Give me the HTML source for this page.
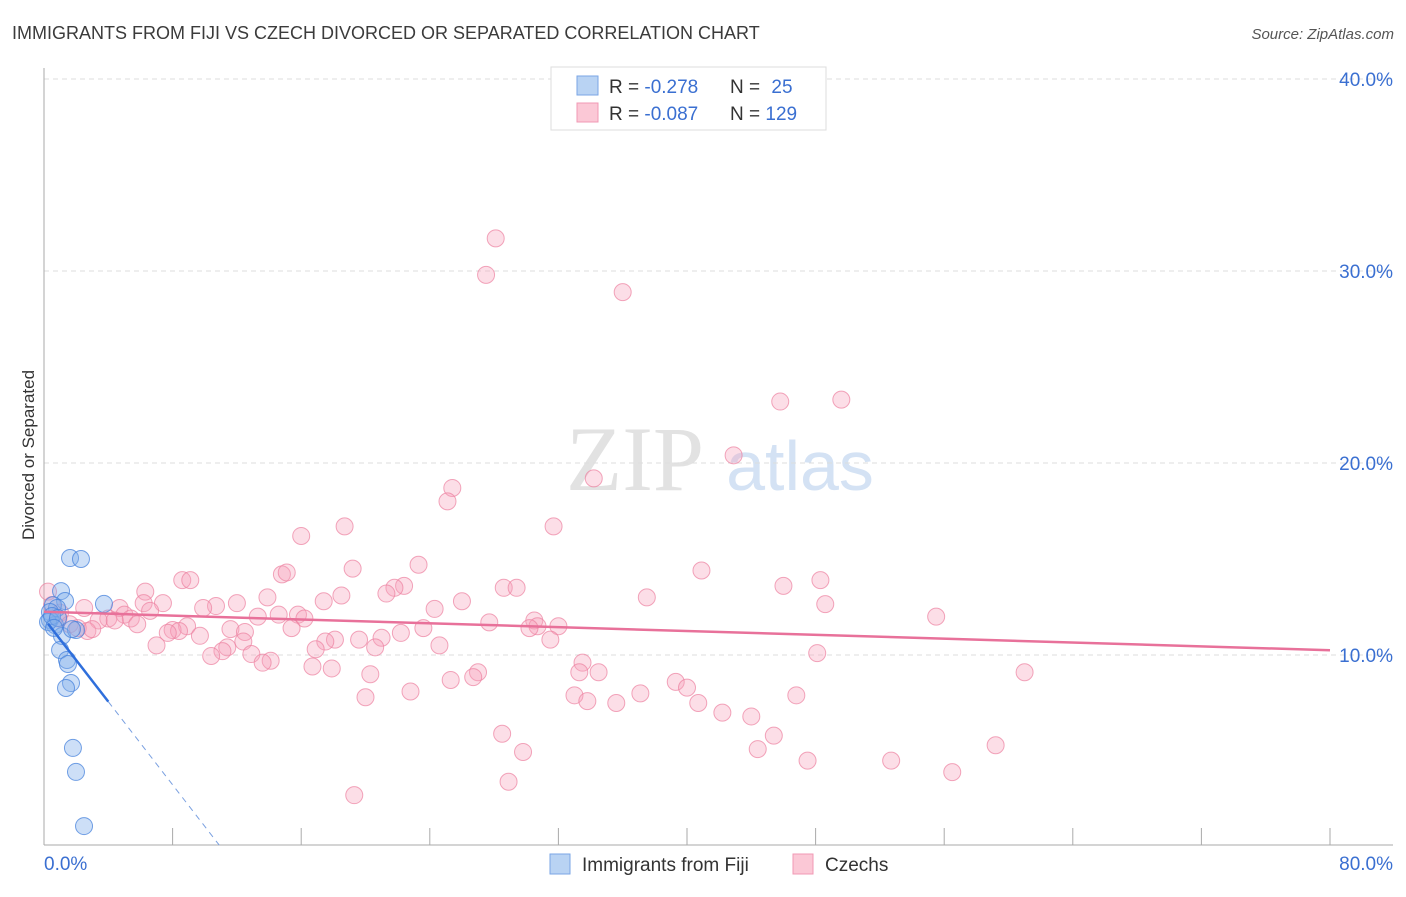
<!DOCTYPE html>
<html><head><meta charset="utf-8">
<style>
html,body{margin:0;padding:0;background:#fff;}
body{width:1406px;height:892px;overflow:hidden;font-family:"Liberation Sans",sans-serif;}
</style></head>
<body>
<svg id="chart" width="1406" height="892" xmlns="http://www.w3.org/2000/svg" font-family="Liberation Sans, sans-serif">
<text x="12" y="39" font-size="18" fill="#3b3b3b">IMMIGRANTS FROM FIJI VS CZECH DIVORCED OR SEPARATED CORRELATION CHART</text>
<text x="1394" y="39" font-size="15" fill="#555" text-anchor="end" font-style="italic">Source: ZipAtlas.com</text>
<g>
<text x="635" y="490" font-size="92" fill="#e2e2e2" font-family="Liberation Serif, serif" text-anchor="middle">ZIP</text>
<text x="800" y="490" font-size="70" fill="#d4e2f4" text-anchor="middle">atlas</text>
</g>
<g id="grid"></g>
<g id="axes"></g>
<g id="points"></g>
<g id="trends"></g>
<text transform="translate(34,455) rotate(-90)" font-size="17" fill="#333" text-anchor="middle">Divorced or Separated</text>
<g>
<rect x="551" y="67" width="275" height="63" fill="#fff" stroke="#ddd"/>
<rect x="577" y="76" width="21" height="19" fill="#b9d3f3" stroke="#7aa6e6"/>
<rect x="577" y="103" width="21" height="19" fill="#fbc8d6" stroke="#f099b4"/>
<text x="609" y="93" font-size="19" fill="#333">R = <tspan fill="#3a6fd1">-0.278</tspan></text>
<text x="730" y="93" font-size="19" fill="#333">N = <tspan fill="#3a6fd1" dx="6">25</tspan></text>
<text x="609" y="120" font-size="19" fill="#333">R = <tspan fill="#3a6fd1">-0.087</tspan></text>
<text x="730" y="120" font-size="19" fill="#333">N = <tspan fill="#3a6fd1">129</tspan></text>
</g>
<g>
<rect x="550" y="854" width="20" height="20" fill="#b9d3f3" stroke="#7aa6e6"/>
<text x="582" y="871" font-size="19" fill="#333">Immigrants from Fiji</text>
<rect x="793" y="854" width="20" height="20" fill="#fbc8d6" stroke="#f099b4"/>
<text x="825" y="871" font-size="19" fill="#333">Czechs</text>
</g>
</svg>
<script>
const yTicks=[10,20,30,40];
const yTickLabels=["10.0%","20.0%","30.0%","40.0%"];
const xTicks=[8,16,24,32,40,48,56,64,72,80];
const xLabels=["0.0%","80.0%"];
const fijiX=[1.62,2.30,1.06,1.31,0.56,0.81,3.73,0.37,0.37,0.68,1.12,1.99,1.0,1.43,1.49,1.68,1.37,1.80,1.99,2.49,0.25,0.5,0.87,0.62,1.74];
const fijiY=[15.05,15.0,13.33,12.81,12.6,12.45,12.66,12.24,11.82,11.56,10.99,11.3,10.26,9.74,9.53,8.54,8.28,5.16,3.91,1.09,11.72,12.03,11.93,11.41,11.35];
const czX=[28.1,27.5,36.0,45.8,49.6,42.9,34.2,25.4,25.1,18.7,31.7,16.0,23.3,19.2,40.9,14.8,15.1,8.6,9.1,22.4,21.8,28.6,29.4,46.0,48.3,6.3,21.3,18.5,13.9,37.5,26.0,17.4,12.0,6.2,7.4,10.7,9.9,48.6,2.5,4.7,6.6,24.3,5.0,15.8,14.6,13.3,16.2,55.5,5.4,4.0,3.4,30.5,27.7,5.8,8.9,23.6,32.0,30.7,30.2,15.4,11.6,8.0,8.4,12.5,7.7,2.7,22.2,9.7,21.0,19.6,18.1,17.5,31.5,12.4,24.6,7.0,11.4,20.6,16.9,11.1,12.9,48.1,10.4,14.1,13.6,33.5,16.7,17.9,33.3,34.5,27.0,26.7,61.0,20.3,25.3,39.3,40.0,22.8,37.1,33.0,46.8,20.0,33.8,35.6,40.7,42.2,44.0,28.5,45.4,59.2,44.4,29.8,47.5,52.7,56.5,28.9,19.3,0.25,0.5,1.0,0.9,1.6,2.1,3.0,4.4];
const czY=[31.7,29.8,28.9,23.2,23.3,20.4,19.2,18.7,18.0,16.7,16.7,16.2,14.7,14.5,14.4,14.2,14.3,13.9,13.9,13.6,13.5,13.5,13.5,13.6,13.9,13.3,13.2,13.1,13.0,13.0,12.8,12.8,12.7,12.7,12.7,12.55,12.45,12.65,12.45,12.45,12.3,12.4,12.1,12.1,12.1,12.0,11.9,12.0,11.9,11.9,11.8,11.8,11.7,11.6,11.5,11.4,11.5,11.5,11.4,11.4,11.35,11.3,11.25,11.2,11.15,11.25,11.15,11.0,10.9,10.8,10.8,10.7,10.8,10.7,10.5,10.5,10.4,10.4,10.3,10.2,10.05,10.1,9.95,9.7,9.6,9.6,9.4,9.3,9.1,9.1,9.1,8.85,9.1,9.0,8.7,8.6,8.3,8.1,8.0,7.9,7.9,7.8,7.6,7.5,7.5,7.0,6.8,5.9,5.8,5.3,5.1,4.95,4.5,4.5,3.9,3.4,2.7,13.3,12.6,12.2,11.9,11.6,11.4,11.35,11.8];
const fijiTrend=[11.9,0.1]; // values at x=0 and x=10.9
const fijiTrendX=[0,4.0,10.9];
const czTrend=[12.25,10.25]; // values at x=0 and x=80
const X0=44,X1=1330,Y0=847,PX_PER=19.2;
function sx(v){return X0+v*(X1-X0)/80;}
function sy(v){return Y0-v*PX_PER;}
const NS="http://www.w3.org/2000/svg";
function mk(tag,attrs,parent){const e=document.createElementNS(NS,tag);for(const k in attrs)e.setAttribute(k,attrs[k]);parent.appendChild(e);return e;}
const grid=document.getElementById('grid'),axes=document.getElementById('axes'),pts=document.getElementById('points'),tr=document.getElementById('trends');
yTicks.forEach((t,i)=>{
  const l=mk('line',{x1:44,x2:1393,y1:sy(t),y2:sy(t),stroke:'#ddd','stroke-dasharray':'5,4'},grid);
  
  
  const tx=mk('text',{x:1393,y:sy(t)+7,'font-size':19,fill:'#3a6fd1','text-anchor':'end'},axes);
  tx.textContent=yTickLabels[i];
  
  
});
const ya=mk('line',{x1:44,x2:44,y1:68,y2:845,stroke:'#aaa'},axes);


const xa=mk('line',{x1:44,x2:1393,y1:845,y2:845,stroke:'#aaa'},axes);


xTicks.forEach(t=>{
  const l=mk('line',{x1:sx(t),x2:sx(t),y1:828,y2:845,stroke:'#aaa'},axes);
  
  
});
const xl0=mk('text',{x:44,y:870,'font-size':19,fill:'#3a6fd1'},axes);xl0.textContent=xLabels[0];


const xl1=mk('text',{x:1393,y:870,'font-size':19,fill:'#3a6fd1','text-anchor':'end'},axes);xl1.textContent=xLabels[1];


czX.forEach((x,i)=>{
  const c=mk('circle',{cx:sx(x),cy:sy(czY[i]),r:8.5,fill:'rgba(247,160,187,0.35)',stroke:'rgba(236,128,160,0.7)','stroke-width':1},pts);
  
  
});
fijiX.forEach((x,i)=>{
  const c=mk('circle',{cx:sx(x),cy:sy(fijiY[i]),r:8.5,fill:'rgba(130,175,235,0.4)',stroke:'rgba(70,130,220,0.75)','stroke-width':1},pts);
  
  
});
function fy(x){return fijiTrend[0]+(fijiTrend[1]-fijiTrend[0])*x/fijiTrendX[2];}
const ct=mk('line',{x1:sx(0),y1:sy(czTrend[0]),x2:sx(80),y2:sy(czTrend[1]),stroke:'#e8719a','stroke-width':2.5},tr);


const ft=mk('line',{x1:sx(0.25),y1:sy(fy(0.25)),x2:sx(fijiTrendX[1]),y2:sy(fy(fijiTrendX[1])),stroke:'#2f6fdc','stroke-width':2.5},tr);


const fd=mk('line',{x1:sx(fijiTrendX[1]),y1:sy(fy(fijiTrendX[1])),x2:sx(fijiTrendX[2]),y2:sy(fy(fijiTrendX[2])),stroke:'#7aa0e0','stroke-width':1,'stroke-dasharray':'6,5'},tr);


</script>
</body></html>
